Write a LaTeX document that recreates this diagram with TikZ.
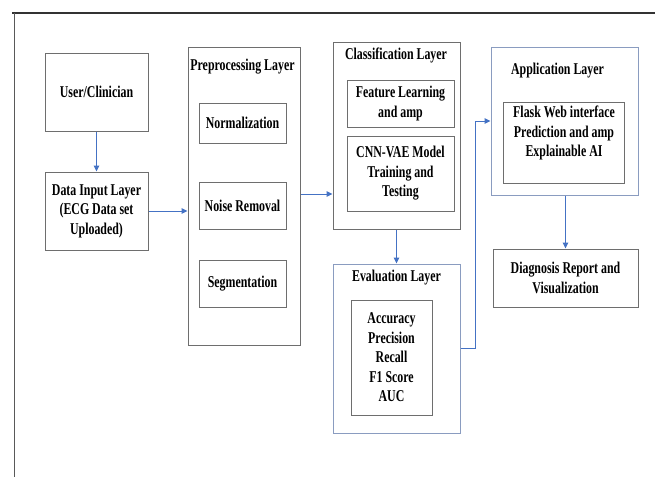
\documentclass[tikz,border=0pt]{standalone}
\usepackage{fontspec}
\setmainfont{Liberation Serif}[FakeStretch=0.72]
\usetikzlibrary{arrows.meta}

\definecolor{boxgray}{HTML}{6E6E6E}
\definecolor{layerblue}{HTML}{8A9CC0}
\definecolor{flow}{HTML}{4472C4}

\begin{document}
\begin{tikzpicture}[x=1pt, y=-1pt,
  txt/.style={font=\bfseries\fontsize{16.5}{19.5}\selectfont, align=center, inner sep=0pt},
  box/.style={txt, draw=boxgray, line width=1pt},
  layerbox/.style={box, draw=layerblue},
  arr/.style={flow, line width=1pt, -{Triangle[length=6pt, width=5.5pt]}}]
  \useasboundingbox (0,0) rectangle (655,477);

  % outer frame
  \draw[black!80, line width=2.5pt] (12,13) -- (655,13);
  \draw[black!65, line width=1pt] (14,13) -- (14,477);

  % input side
  \node[box, minimum width=103, minimum height=78] (user) at (96.5,92) {User/Clinician};
  \node[box, minimum width=103, minimum height=78] (data) at (96.5,211)
    {Data Input Layer\\(ECG Data set\\Uploaded)};

  % preprocessing layer
  \node[box, minimum width=112, minimum height=298] (pre) at (244,196) {};
  \node[txt] (pretitle) at (242.5,67) {Preprocessing Layer};
  \node[box, minimum width=87, minimum height=40] (norm) at (242.5,123) {Normalization};
  \node[box, minimum width=87, minimum height=47] (noise) at (242.5,205.5) {Noise Removal};
  \node[box, minimum width=87, minimum height=47] (seg) at (242.5,283.5) {Segmentation};

  % classification layer
  \node[box, minimum width=127, minimum height=187] (cls) at (396.5,135.5) {};
  \node[txt] (clstitle) at (396,55) {Classification Layer};
  \node[box, minimum width=107, minimum height=47] (feat) at (400.5,103.5)
    {Feature Learning\\and amp};
  \node[box, minimum width=107, minimum height=75] (cnn) at (400.5,173.5)
    {CNN-VAE Model\\Training and\\Testing};

  % evaluation layer
  \node[layerbox, minimum width=127, minimum height=169] (eval) at (396.5,348.5) {};
  \node[txt] (evaltitle) at (396.5,278) {Evaluation Layer};
  \node[box, minimum width=81, minimum height=115] (metrics) at (391.5,357.5)
    {Accuracy\\Precision\\Recall\\F1 Score\\AUC};

  % application layer
  \node[layerbox, minimum width=147, minimum height=148] (app) at (564.5,121) {};
  \node[txt] (apptitle) at (557.5,71) {Application Layer};
  \node[box, minimum width=121, minimum height=81] (flask) at (563.5,142.5) {};
  \node[txt, anchor=north] (flasktxt) at (564,106)
    {Flask Web interface\\Prediction and amp\\Explainable AI};
  \node[box, minimum width=145, minimum height=58] (diag) at (565.5,278)
    {Diagnosis Report and\\Visualization};

  % connectors
  \draw[arr] (user) -- (data);
  \draw[arr] (data.east) -- (data.east -| pre.west);
  \draw[arr] ([yshift=2pt]pre.east) -- ([yshift=2pt]pre.east -| cls.west);
  \draw[arr] (cls) -- (eval);
  \draw[arr] (eval.east) -- ++(15,0) |- (app.west);
  \draw[arr] (app.south -| diag.north) -- (diag.north);
\end{tikzpicture}
\end{document}
